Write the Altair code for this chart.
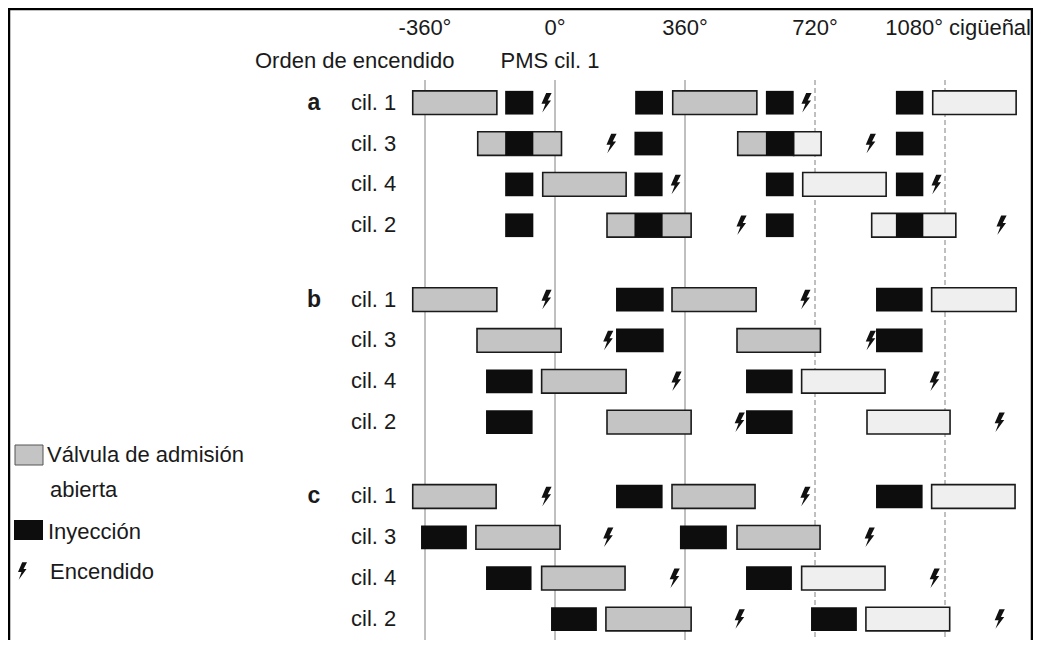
import altair as alt
import pandas as pd

# ---------------- data (crank angle in degrees) ----------------
GROUPS = ["a", "b", "c"]
CYLS = ["cil. 1", "cil. 3", "cil. 4", "cil. 2"]

# intake valve open intervals per cylinder: (start, end, tone)  d = darker grey, l = light grey
VALVE_A = [
    [(-394, -161, "d"), (326, 559, "d"), (1046, 1277, "l")],
    [(-214, 18, "d"), (506, 661, "d"), (661, 737, "l")],
    [(-34, 197, "d"), (686, 917, "l")],
    [(144, 377, "d"), (877, 1110, "l")],
]
VALVE_B = [
    [(-394, -161, "d"), (324, 557, "d"), (1043, 1277, "l")],
    [(-216, 17, "d"), (504, 735, "d")],
    [(-37, 197, "d"), (683, 914, "l")],
    [(144, 377, "d"), (864, 1094, "l")],
]
VALVE_C = [
    [(-394, -163, "d"), (324, 554, "d"), (1043, 1274, "l")],
    [(-219, 14, "d"), (504, 734, "d")],
    [(-37, 194, "d"), (683, 914, "l")],
    [(141, 377, "d"), (861, 1093, "l")],
]

# injection intervals per cylinder: (start, end)
INJ_A = [
    [(-138, -60), (222, 299), (584, 661), (944, 1020)],
    [(-138, -60), (220, 298), (584, 661), (944, 1020)],
    [(-138, -60), (220, 298), (584, 661), (944, 1020)],
    [(-138, -60), (220, 298), (584, 661), (944, 1020)],
]
INJ_B = [
    [(169, 301), (889, 1018)],
    [(169, 301), (889, 1018)],
    [(-191, -62), (529, 658)],
    [(-191, -62), (529, 658)],
]
INJ_C = [
    [(169, 298), (889, 1018)],
    [(-371, -244), (346, 476)],
    [(-191, -65), (529, 656)],
    [(-11, 116), (709, 836)],
]

# ignition angles per cylinder
SPARK_A = [[-25, 695], [155, 873], [333, 1055], [515, 1235]]
SPARK_B = [[-25, 692], [146, 873], [335, 1050], [510, 1230]]
SPARK_C = [[-25, 692], [146, 870], [330, 1050], [510, 1230]]

SOLID_LINES = [-360, 0, 360]
DASHED_LINES = [720, 1080]
TOP_LABELS = ["-360°", "0°", "360°", "720°"]
TOP_LABEL_DEG = [-360, 0, 360, 720]
LAST_TOP_LABEL = "1080° cigüeñal"
HEADER_LEFT = "Orden de encendido"
HEADER_MID = "PMS cil. 1"
LEGEND_TEXT = ["Válvula de admisión", "abierta", "Inyección", "Encendido"]

# ---------------- build tables ----------------
GROUP_STEP = 4.82
valves, injs, sparks, cyl_rows, grp_rows = [], [], [], [], []
for gi, (g, V, I, S) in enumerate(zip(GROUPS, [VALVE_A, VALVE_B, VALVE_C],
                                       [INJ_A, INJ_B, INJ_C], [SPARK_A, SPARK_B, SPARK_C])):
    grp_rows.append({"label": g, "row": gi * GROUP_STEP})
    for ci, c in enumerate(CYLS):
        row = gi * GROUP_STEP + ci
        cyl_rows.append({"label": c, "row": row})
        for s, e, t in V[ci]:
            valves.append({"row": row, "start": s, "end": e, "tone": t})
        for s, e in I[ci]:
            injs.append({"row": row, "start": s, "end": e})
        for a in S[ci]:
            sparks.append({"row": row, "deg": a})

valves = pd.DataFrame(valves)
injs = pd.DataFrame(injs)
sparks = pd.DataFrame(sparks)
cyl_rows = pd.DataFrame(cyl_rows)
grp_rows = pd.DataFrame(grp_rows)

FONT = "Liberation Sans Narrow, Arial Narrow, Nimbus Sans Narrow, Liberation Sans, sans-serif"
BOLT = "M0.02,-1 L0.58,-1 L0.18,-0.22 L0.52,-0.22 L-0.38,1 L-0.06,0.12 L-0.46,0.12 Z"

X = alt.Scale(domain=[-360, 1080], range=[417, 937])
Y = alt.Scale(domain=[0, 10], range=[94.7, 503.2])
HALF = 0.29

one = pd.DataFrame({"k": [0]})

valve_layer = alt.Chart(valves).transform_calculate(
    y1=f"datum.row - {HALF}", y2=f"datum.row + {HALF}"
).mark_rect(stroke="#1a1a1a", strokeWidth=1.6).encode(
    x=alt.X("start:Q", scale=X, axis=None),
    x2="end:Q",
    y=alt.Y("y1:Q", scale=Y, axis=None),
    y2="y2:Q",
    fill=alt.Fill("tone:N", scale=alt.Scale(domain=["d", "l"], range=["#c4c4c4", "#efefef"]), legend=None),
)

inj_layer = alt.Chart(injs).transform_calculate(
    y1=f"datum.row - {HALF}", y2=f"datum.row + {HALF}"
).mark_rect(color="#0d0d0d").encode(
    x=alt.X("start:Q", scale=X, axis=None),
    x2="end:Q",
    y=alt.Y("y1:Q", scale=Y, axis=None),
    y2="y2:Q",
)

spark_layer = alt.Chart(sparks).mark_point(
    shape=BOLT, filled=True, fill="#111", strokeWidth=0, size=380, opacity=1
).encode(
    x=alt.X("deg:Q", scale=X, axis=None),
    y=alt.Y("row:Q", scale=Y, axis=None),
)

solid_rules = alt.Chart(pd.DataFrame({"deg": SOLID_LINES})).mark_rule(
    color="#808080", strokeWidth=1
).encode(x=alt.X("deg:Q", scale=X, axis=None), y=alt.value(72), y2=alt.value(634))

dashed_rules = alt.Chart(pd.DataFrame({"deg": DASHED_LINES})).mark_rule(
    color="#808080", strokeWidth=1, strokeDash=[5, 3]
).encode(x=alt.X("deg:Q", scale=X, axis=None), y=alt.value(72), y2=alt.value(634))

top_labels = alt.Chart(pd.DataFrame({"deg": TOP_LABEL_DEG, "t": TOP_LABELS})).mark_text(
    font=FONT, fontSize=22, align="center", baseline="alphabetic", color="#1a1a1a"
).encode(x=alt.X("deg:Q", scale=X, axis=None), y=alt.value(27), text="t:N")

last_label = alt.Chart(one).mark_text(
    font=FONT, fontSize=22, align="right", baseline="alphabetic", color="#1a1a1a", text=LAST_TOP_LABEL
).encode(x=alt.value(1023), y=alt.value(27))

header_left = alt.Chart(one).mark_text(
    font=FONT, fontSize=22, align="left", baseline="alphabetic", color="#1a1a1a", text=HEADER_LEFT
).encode(x=alt.value(247), y=alt.value(60))

header_mid = alt.Chart(one).mark_text(
    font=FONT, fontSize=22, align="center", baseline="alphabetic", color="#1a1a1a", text=HEADER_MID
).encode(x=alt.value(542), y=alt.value(60))

cyl_labels = alt.Chart(cyl_rows).mark_text(
    font=FONT, fontSize=22, align="left", baseline="middle", color="#1a1a1a"
).encode(x=alt.value(343), y=alt.Y("row:Q", scale=Y, axis=None), text="label:N")

grp_labels = alt.Chart(grp_rows).mark_text(
    font=FONT, fontSize=23, fontWeight="bold", align="center", baseline="middle", color="#1a1a1a"
).encode(x=alt.value(306), y=alt.Y("row:Q", scale=Y, axis=None), text="label:N")

# legend
leg_valve = alt.Chart(one).mark_rect(fill="#c4c4c4", stroke="#555", strokeWidth=1).encode(
    x=alt.value(7), x2=alt.value(35), y=alt.value(437), y2=alt.value(457))
leg_inj = alt.Chart(one).mark_rect(fill="#0d0d0d").encode(
    x=alt.value(6), x2=alt.value(35), y=alt.value(512), y2=alt.value(532))
leg_bolt = alt.Chart(one).mark_point(shape=BOLT, filled=True, fill="#111", strokeWidth=0, size=300, opacity=1).encode(
    x=alt.value(14), y=alt.value(563))
leg_text = alt.Chart(pd.DataFrame({"t": LEGEND_TEXT, "x": [39, 42, 40, 42], "y": [447, 482, 524, 564]})).mark_text(
    font=FONT, fontSize=22, align="left", baseline="middle", color="#1a1a1a"
).encode(x=alt.X("x:Q", scale=None, axis=None), y=alt.Y("y:Q", scale=None, axis=None), text="t:N")

# frame
frame_top = alt.Chart(one).mark_rule(color="#000", strokeWidth=2.5).encode(
    x=alt.value(0), x2=alt.value(1025), y=alt.value(1))
frame_left = alt.Chart(one).mark_rule(color="#000", strokeWidth=2.5).encode(
    x=alt.value(1), y=alt.value(0), y2=alt.value(632))
frame_right = alt.Chart(one).mark_rule(color="#000", strokeWidth=2.5).encode(
    x=alt.value(1024), y=alt.value(0), y2=alt.value(632))

chart = alt.layer(
    solid_rules, dashed_rules, valve_layer, inj_layer, spark_layer,
    top_labels, last_label, header_left, header_mid, cyl_labels, grp_labels,
    leg_valve, leg_inj, leg_bolt, leg_text,
    frame_top, frame_left, frame_right,
).properties(
    width=1025, height=632, padding=0, autosize=alt.AutoSizeParams(type="none"),
    background="white",
).configure_view(stroke=None)

chart.save("out.html", embed_options={"renderer": "svg", "actions": False})
